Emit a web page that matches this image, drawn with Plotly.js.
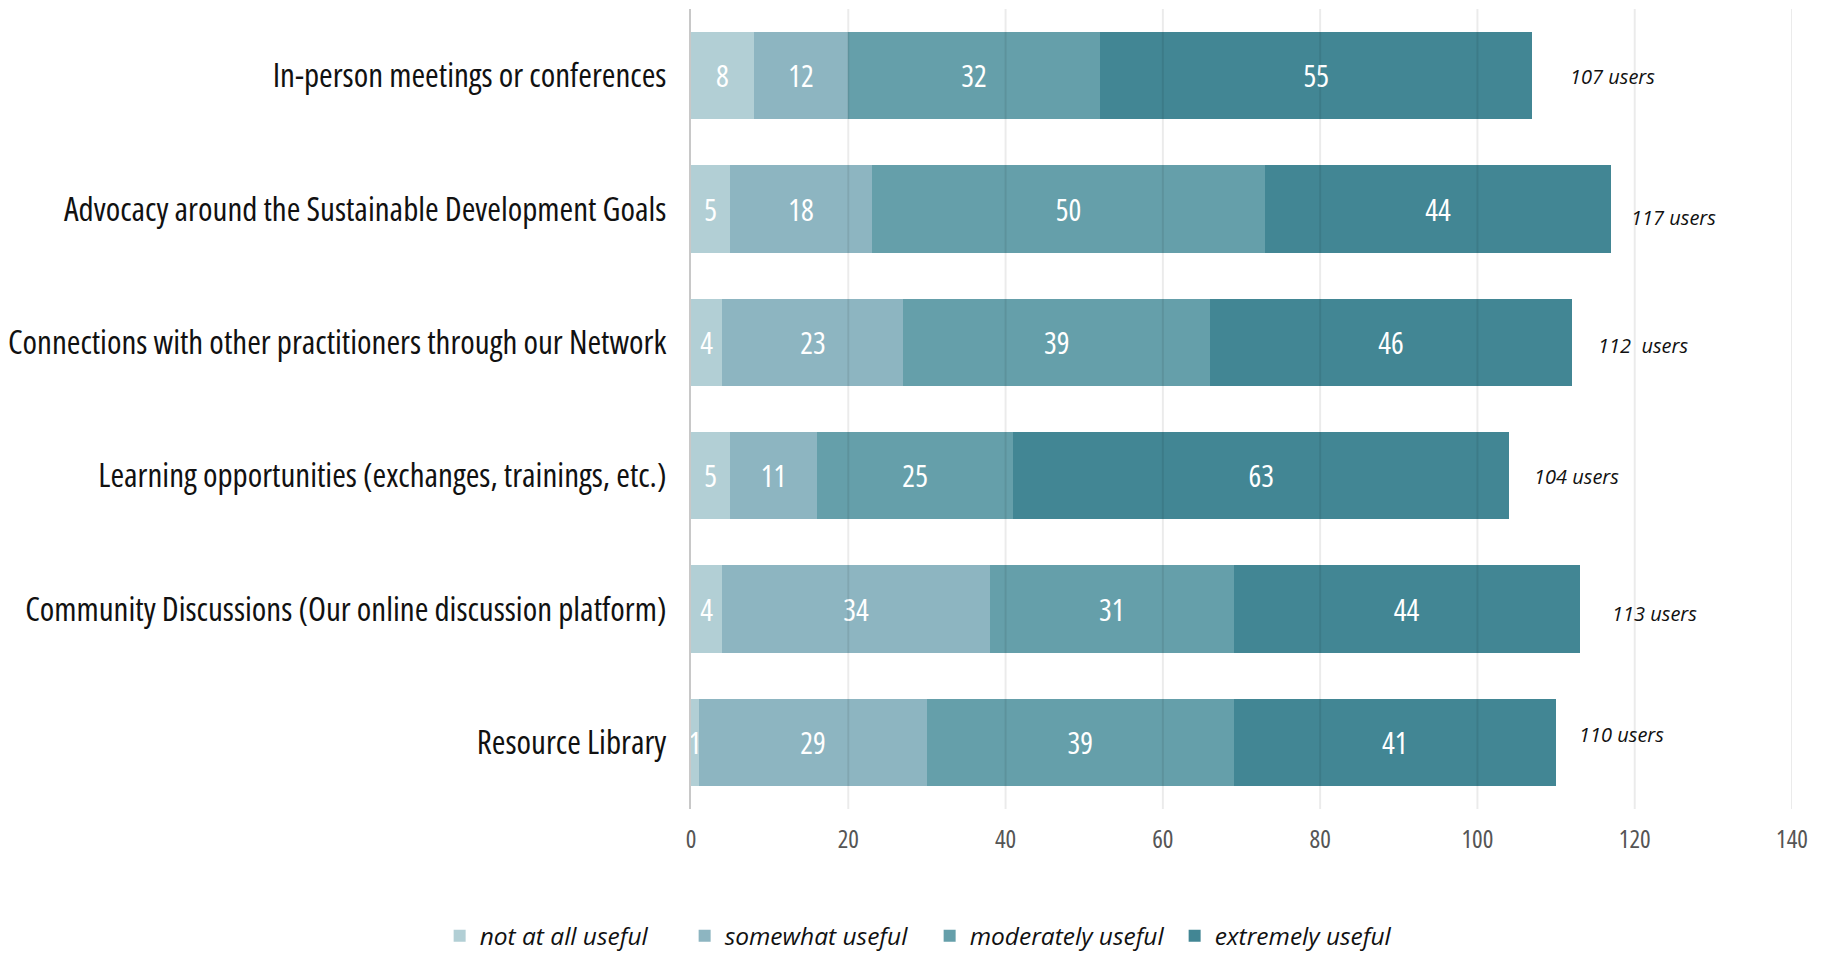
<!DOCTYPE html>
<html>
<head>
<meta charset="utf-8">
<script src="https://cdn.plot.ly/plotly-3.0.1.min.js"></script>
<style>
html,body{margin:0;padding:0;background:#fff;}
#chart{width:1830px;height:953px;}
svg text{font-stretch:condensed !important;}
svg text.legendtext, svg text.annotation-text{font-stretch:normal !important;}
</style>
</head>
<body>
<div id="chart"></div>
<script>
// Categories (top to bottom as shown)
const categories = [
  "In-person meetings or conferences",
  "Advocacy around the Sustainable Development Goals",
  "Connections with other practitioners through our Network",
  "Learning opportunities (exchanges, trainings, etc.)",
  "Community Discussions (Our online discussion platform)",
  "Resource Library"
];
const seriesNames = ["not at all useful", "somewhat useful", "moderately useful", "extremely useful"];
const notAtAll   = [8, 5, 4, 5, 4, 1];
const somewhat   = [12, 18, 23, 11, 34, 29];
const moderately = [32, 50, 39, 25, 31, 39];
const extremely  = [55, 44, 46, 63, 44, 41];
const totalLabels = ["107 users", "117 users", "112\u00a0 users", "104 users", "113 users", "110 users"];
const totalLabelX = [111.5, 119.3, 115.1, 106.9, 116.9, 112.7];
const totalLabelShift = [-1, -8, -3, -1, -4, 8];
const xTicks = [0, 20, 40, 60, 80, 100, 120, 140];

const colors = ["#B2CFD5", "#8DB5C1", "#659FAA", "#428694"];
const FONT = "'Open Sans', 'Roboto Condensed', sans-serif";
const allSeries = [notAtAll, somewhat, moderately, extremely];

const traces = allSeries.map((vals, i) => ({
  type: "bar",
  orientation: "h",
  name: seriesNames[i],
  y: categories,
  x: vals,
  marker: {color: colors[i], line: {width: 0}},
  text: vals.map(String),
  texttemplate: "%{text}",
  textposition: "inside",
  insidetextanchor: "middle",
  textangle: 0,
  constraintext: "none",
  insidetextfont: {family: FONT, size: 30, color: "#ffffff"},
  hoverinfo: "skip"
}));

const annotations = categories.map((c, i) => ({
  x: totalLabelX[i], y: c, xref: "x", yref: "y",
  text: totalLabels[i], showarrow: false, xanchor: "left", yanchor: "middle",
  yshift: totalLabelShift[i],
  font: {family: FONT, size: 20, color: "#111111", style: "italic"}
}));

const shapes = xTicks.filter(v => v > 0).map(v => ({
  type: "line", xref: "x", yref: "paper", x0: v, x1: v, y0: 0, y1: 1,
  layer: "above", line: {color: "rgba(0,0,0,0.08)", width: 2}
}));

const layout = {
  width: 1830, height: 953,
  margin: {l: 691, r: 38, t: 9, b: 144, autoexpand: false},
  paper_bgcolor: "#ffffff", plot_bgcolor: "#ffffff",
  barmode: "stack",
  bargap: 0.343,
  showlegend: true,
  legend: {
    orientation: "h", xref: "container", yref: "container",
    x: 0.508, xanchor: "center", y: 0.018, yanchor: "middle",
    entrywidth: 200, entrywidthmode: "pixels",
    font: {family: FONT, size: 24.5, color: "#111111", style: "italic"},
    traceorder: "normal", itemclick: false
  },
  xaxis: {
    range: [0, 140], tickvals: xTicks, ticktext: xTicks.map(String),
    showgrid: false, zeroline: false, showline: false, ticks: "",
    tickfont: {family: FONT, size: 25, color: "#555555"},
    ticklabelstandoff: 13, fixedrange: true
  },
  yaxis: {
    autorange: "reversed", showgrid: false, zeroline: false,
    showline: true, linecolor: "#c8c8c8", linewidth: 2, layer: "above traces",
    ticks: "", ticklabelstandoff: 16,
    tickfont: {family: FONT, size: 33, color: "#111111"}, fixedrange: true
  },
  annotations: annotations,
  shapes: shapes,
  uniformtext: {mode: false}
};

Plotly.newPlot("chart", traces, layout, {displayModeBar: false, staticPlot: true});
</script>
</body>
</html>
